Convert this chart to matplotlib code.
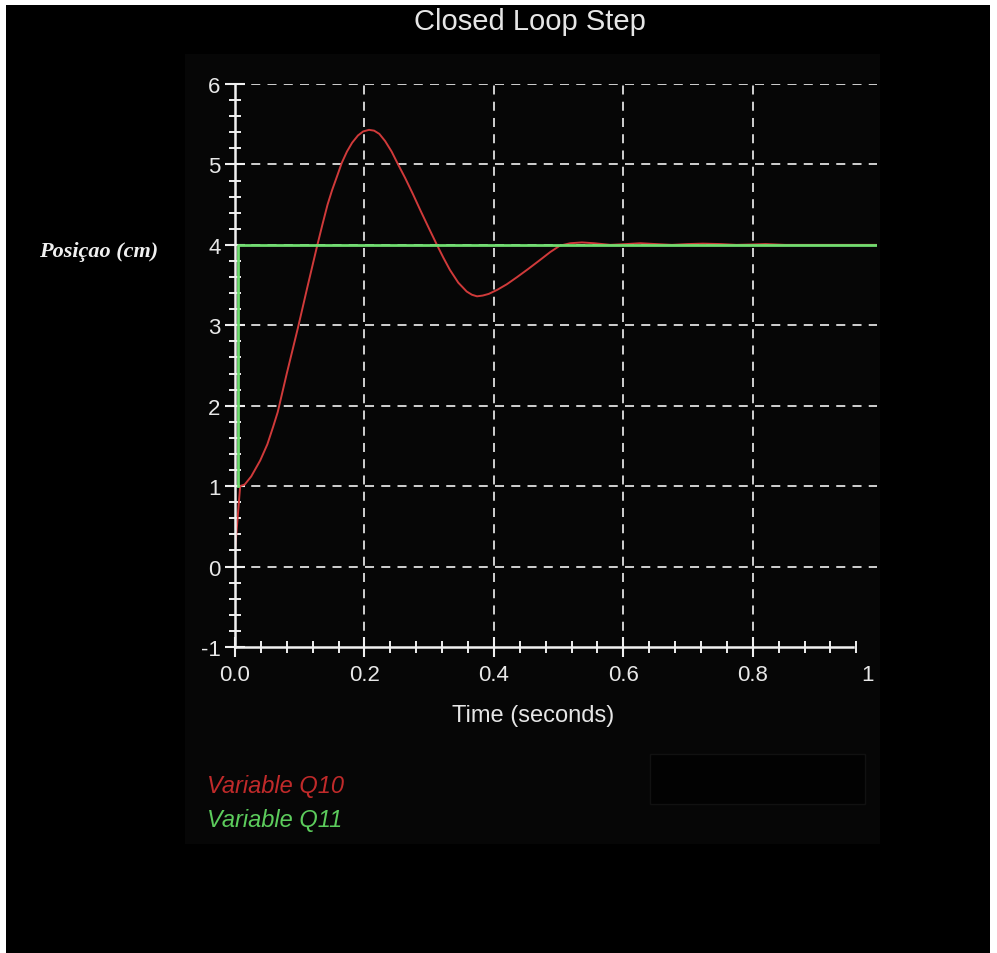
import matplotlib
matplotlib.use("Agg")
import matplotlib.pyplot as plt
from matplotlib.patches import Rectangle
from matplotlib.ticker import MultipleLocator

plt.rcParams.update({
    "font.family": ["Liberation Sans", "DejaVu Sans"],
    "axes.unicode_minus": False,
})

# step response
t_q10 = [0.0, 0.004, 0.008, 0.015, 0.025, 0.039, 0.050, 0.059, 0.066, 0.080,
         0.097, 0.112, 0.127, 0.135, 0.143, 0.150, 0.158, 0.165, 0.173, 0.181,
         0.190, 0.198, 0.207, 0.215, 0.223, 0.232, 0.242, 0.252, 0.263, 0.275,
         0.287, 0.300, 0.312, 0.322, 0.332, 0.345, 0.358, 0.366, 0.374, 0.383,
         0.392, 0.405, 0.420, 0.436, 0.453, 0.471, 0.487, 0.502, 0.518, 0.536,
         0.555, 0.580, 0.605, 0.626, 0.650, 0.675, 0.700, 0.723, 0.750, 0.775,
         0.800, 0.820, 0.850, 0.900, 0.990]
y_q10 = [0.2, 0.6, 1.0, 1.02, 1.12, 1.32, 1.52, 1.74, 1.92, 2.40,
         2.96, 3.48, 3.99, 4.25, 4.50, 4.68, 4.86, 5.02, 5.16, 5.27,
         5.36, 5.41, 5.43, 5.42, 5.38, 5.29, 5.16, 5.00, 4.83, 4.63,
         4.42, 4.20, 4.00, 3.84, 3.69, 3.53, 3.42, 3.38, 3.36, 3.37,
         3.39, 3.44, 3.51, 3.60, 3.70, 3.81, 3.91, 3.99, 4.02, 4.03,
         4.02, 4.00, 4.01, 4.02, 4.01, 4.00, 4.01, 4.015, 4.01, 4.00,
         4.005, 4.01, 4.00, 4.00, 4.00]

t_q11 = [0.004, 0.004, 0.990]
y_q11 = [1.0, 4.0, 4.0]

x_ticks = [0.0, 0.2, 0.4, 0.6, 0.8, 0.978]
x_labels = ["0.0", "0.2", "0.4", "0.6", "0.8", "1"]
y_ticks = [-1, 0, 1, 2, 3, 4, 5, 6]

W, H = 997, 954
fig = plt.figure(figsize=(W / 100, H / 100), dpi=100, facecolor="white")

# black canvas with the faint inner panels
fig.patches.append(Rectangle((6 / W, 0), (990 - 6) / W, (H - 6) / H,
                             transform=fig.transFigure, facecolor="black",
                             edgecolor="none", zorder=-3))
fig.patches.append(Rectangle((185 / W, 1 - 845 / H), (880 - 185) / W, (845 - 55) / H,
                             transform=fig.transFigure, facecolor="#060606",
                             edgecolor="none", zorder=-2))
fig.patches.append(Rectangle((650 / W, 1 - 805 / H), (865 - 650) / W, 50 / H,
                             transform=fig.transFigure, facecolor="#020202",
                             edgecolor="#111111", lw=1, zorder=-1))

ax = fig.add_axes([235 / W, 1 - 648 / H, (877 - 235) / W, (648 - 85) / H])
ax.set_facecolor("none")
ax.set_xlim(0, 0.992)
ax.set_ylim(-1, 6)

ax.plot(t_q10, y_q10, color="#d03a3a", lw=1.4, zorder=3)
ax.plot(t_q11, y_q11, color="#6fdc6f", lw=2.0, zorder=4)

for side in ["top", "right"]:
    ax.spines[side].set_visible(False)
for side in ["left", "bottom"]:
    ax.spines[side].set_color("#f0f0f0")
    ax.spines[side].set_linewidth(1.8)
    ax.spines[side].set_zorder(5)
ax.spines["bottom"].set_bounds(0, 0.955)

ax.set_xticks(x_ticks)
ax.set_xticklabels(x_labels)
ax.set_yticks(y_ticks)
ax.xaxis.set_minor_locator(MultipleLocator(0.04))
ax.yaxis.set_minor_locator(MultipleLocator(0.2))
ax.tick_params(which="major", direction="inout", length=15, width=1.5,
               color="#f0f0f0", labelcolor="#e8e8e8", labelsize=16, pad=3)
ax.tick_params(which="minor", direction="inout", length=9, width=1.4,
               color="#f0f0f0")
ax.tick_params(axis="x", which="major", pad=5)

ax.grid(True, which="major", color="#e0e0e0", lw=1.3, linestyle=(0, (5, 4)))
last = ax.xaxis.get_major_ticks()[-1]
last.tick1line.set_visible(False)
last.gridline.set_visible(False)
ax.xaxis.get_major_ticks()[0].gridline.set_visible(False)
ax.yaxis.get_major_ticks()[0].gridline.set_visible(False)
for g in ax.get_xgridlines() + ax.get_ygridlines():
    g.set_zorder(1)

fig.text(530 / W, 1 - 22 / H, "Closed Loop Step", color="#e6e6e6",
         fontsize=21, ha="center", va="center")
fig.text(533 / W, 1 - 716 / H, "Time (seconds)", color="#e6e6e6",
         fontsize=17, ha="center", va="center")
fig.text(99 / W, 1 - 252 / H, "Posiçao (cm)", color="#f0f0f0", fontsize=16,
         family=["Liberation Serif", "DejaVu Serif"], fontweight="bold",
         fontstyle="italic", ha="center", va="center")
fig.text(207 / W, 1 - 787 / H, "Variable Q10", color="#c02a2a", fontsize=17,
         fontstyle="italic", ha="left", va="center")
fig.text(207 / W, 1 - 821 / H, "Variable Q11", color="#5ccc5c", fontsize=17,
         fontstyle="italic", ha="left", va="center")

fig.savefig("out.png", dpi=100, facecolor=fig.get_facecolor())
